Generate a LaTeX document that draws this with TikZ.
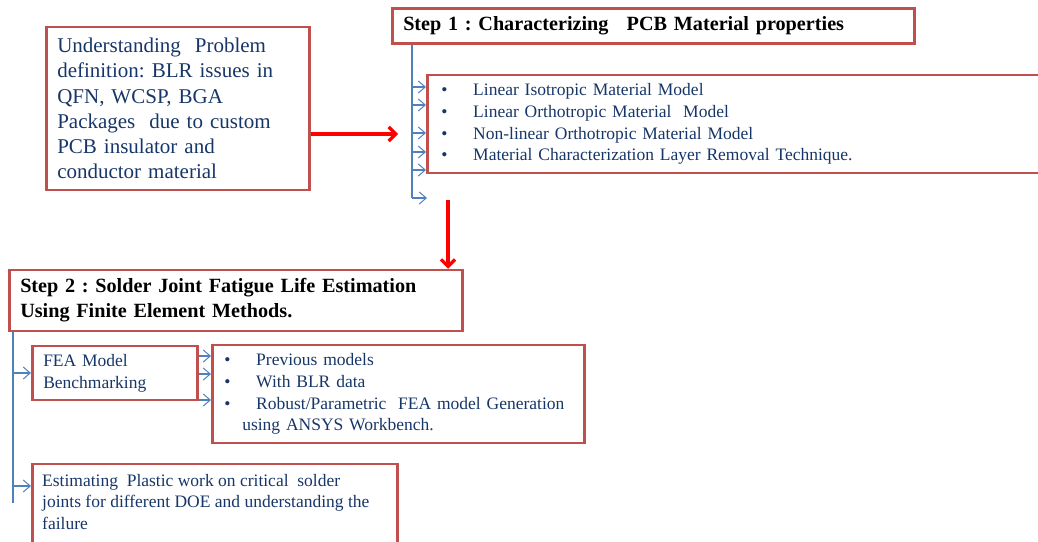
\documentclass[tikz,border=0pt]{standalone}
\usepackage{fontspec}
\setmainfont{Liberation Serif}
\usetikzlibrary{arrows.meta}
\definecolor{boxred}{RGB}{192,80,77}
\definecolor{trunkblue}{RGB}{79,129,189}
\definecolor{inknavy}{RGB}{23,54,104}
\frenchspacing
\tikzset{frame/.style={
    draw=boxred,
    line width=2.5pt,
    rectangle,
    anchor=west,
    align=left},
  heading/.style={font=\fontsize{20.2}{25}\selectfont\bfseries, text=black},
  body/.style={font=\fontsize{17.5}{21.7}\selectfont, text=inknavy},
  bigbody/.style={font=\fontsize{21}{25.2}\selectfont, text=inknavy},
  trunk/.style={draw=trunkblue, line width=1.3pt},
  twig/.style={trunk, -{Straight Barb[length=7pt,width=12pt,line width=1pt]}},
  redarrow/.style={draw=red, line width=3.2pt, -{Straight Barb[length=7pt,width=14pt]}}}
\newcommand{\itembullet}{\makebox[32pt][l]{\textbullet}}

\begin{document}
\begin{tikzpicture}[x=1pt,y=-1pt]
\useasboundingbox (0,0) rectangle (1038,541);
	\coordinate (rtip) at (398,134);
\coordinate (drop) at (448,200);
\coordinate (fork1) at (412,198);
\coordinate (fork2) at (13,503);

\node[frame, bigbody, minimum width=263pt, minimum height=163pt, text width=241pt, inner xsep=11pt] (prob) at (45,108.5) {Understanding\ \ Problem\\ definition: BLR issues in\\ QFN, WCSP, BGA\\ Packages\ \ due to custom\\ PCB insulator and\\ conductor material};
\node[frame, heading, minimum width=522pt, minimum height=35pt, text width=500pt, inner xsep=11pt] (step1) at (391,26) {Step 1 : Characterizing\hspace{0.9em}PCB Material properties};
\node[frame, body, minimum width=625pt, minimum height=98pt, text width=597pt, inner xsep=14pt] (mat) at (426,124) {\itembullet Linear Isotropic Material Model\\ \itembullet Linear Orthotropic Material\ \ Model\\ \itembullet Non-linear Orthotropic Material Model\\ \itembullet Material Characterization Layer Removal Technique.};
\node[frame, heading, minimum width=453pt, minimum height=61pt, text width=431pt, inner xsep=11pt] (step2) at (8,300.5) {Step 2 : Solder Joint Fatigue Life Estimation\\ Using Finite Element Methods.};
\node[frame, body, minimum width=165pt, minimum height=54pt, text width=143pt, inner xsep=11pt] (fea) at (31,373) {FEA Model\\ Benchmarking};
\node[frame, body, minimum width=372pt, minimum height=98pt, text width=348pt, inner xsep=12pt] (gen) at (211,394) {\itembullet Previous models\\ \itembullet With BLR data\\ \itembullet Robust/Parametric\ \ FEA model Generation\\ \hspace*{18pt}using ANSYS Workbench.};
\node[frame, minimum width=365pt, minimum height=90pt] (doe) at (31,509) {};
\node[body, anchor=north west, align=left, inner sep=0pt] (doetext) at ([xshift=11pt,yshift=-11pt]doe.north west) {Estimating\ \ Plastic work on critical\ \ solder\\ joints for different DOE and understanding the\\ failure};

\draw[redarrow] (prob.east |- rtip) -- (rtip);
\draw[redarrow] (drop) -- (drop |- step2.north);

\draw[trunk] (step1.south -| fork1) -- (fork1);
\foreach \y in {87,105,133,152,170}
  \draw[twig] (412,\y) -- (mat.west |- 0,\y);
\draw[twig] (fork1) -- ++(15,0);

\draw[trunk] (step2.south -| fork2) -- (fork2);
\draw[twig] (fea.west -| fork2) -- (fea.west);
\draw[twig] (13,486) -- (doe.west |- 0,486);
\foreach \y in {356,374,400}
  \draw[twig] (fea.east |- 0,\y) -- (gen.west |- 0,\y);
  
\end{tikzpicture}
\end{document}
